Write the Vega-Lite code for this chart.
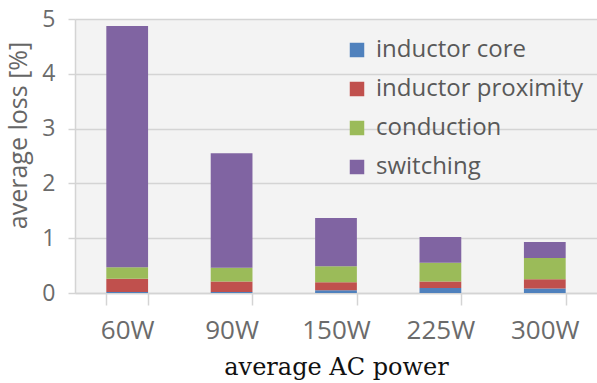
{
  "$schema": "https://vega.github.io/schema/vega-lite/v6.json",
  "width": 522,
  "height": 274,
  "autosize": {"type": "none"},
  "padding": {"left": 75, "top": 19, "right": 0, "bottom": 90},
  "background": "white",
  "config": {
    "view": {"fill": "#f3f3f3", "stroke": null},
    "font": "Open Sans"
  },
  "data": {
    "values": [
      {"power": "60W", "type": "inductor core", "o": 1, "loss": 0.02},
      {"power": "60W", "type": "inductor proximity", "o": 2, "loss": 0.24},
      {"power": "60W", "type": "conduction", "o": 3, "loss": 0.21},
      {"power": "60W", "type": "switching", "o": 4, "loss": 4.4},
      {"power": "90W", "type": "inductor core", "o": 1, "loss": 0.02},
      {"power": "90W", "type": "inductor proximity", "o": 2, "loss": 0.19},
      {"power": "90W", "type": "conduction", "o": 3, "loss": 0.25},
      {"power": "90W", "type": "switching", "o": 4, "loss": 2.09},
      {"power": "150W", "type": "inductor core", "o": 1, "loss": 0.05},
      {"power": "150W", "type": "inductor proximity", "o": 2, "loss": 0.145},
      {"power": "150W", "type": "conduction", "o": 3, "loss": 0.295},
      {"power": "150W", "type": "switching", "o": 4, "loss": 0.88},
      {"power": "225W", "type": "inductor core", "o": 1, "loss": 0.09},
      {"power": "225W", "type": "inductor proximity", "o": 2, "loss": 0.12},
      {"power": "225W", "type": "conduction", "o": 3, "loss": 0.34},
      {"power": "225W", "type": "switching", "o": 4, "loss": 0.47},
      {"power": "300W", "type": "inductor core", "o": 1, "loss": 0.08},
      {"power": "300W", "type": "inductor proximity", "o": 2, "loss": 0.17},
      {"power": "300W", "type": "conduction", "o": 3, "loss": 0.39},
      {"power": "300W", "type": "switching", "o": 4, "loss": 0.29}
    ]
  },
  "mark": {"type": "bar"},
  "encoding": {
    "x": {
      "field": "power",
      "type": "nominal",
      "sort": ["60W", "90W", "150W", "225W", "300W"],
      "scale": {"paddingInner": 0.6, "paddingOuter": 0.3},
      "axis": {
        "title": "average AC power",
        "titleFont": "DejaVu Serif",
        "titleFontSize": 24,
        "titleFontWeight": "normal",
        "titleColor": "#111111",
        "titleBaseline": "alphabetic",
        "titleY": 81,
        "labelAngle": 0,
        "labelFontSize": 26,
        "labelColor": "#6b6b6b",
        "labelPadding": 12,
        "labelBaseline": "top",
        "tickBand": "extent",
        "tickSize": 12,
        "tickColor": "#d4d4d4",
        "tickWidth": 1.5,
        "domainColor": "#d4d4d4",
        "domainWidth": 1.5
      }
    },
    "y": {
      "field": "loss",
      "type": "quantitative",
      "stack": "zero",
      "scale": {"domain": [0, 5], "nice": false},
      "axis": {
        "title": "average  loss [%]",
        "titleFontSize": 25,
        "titleFontWeight": "normal",
        "titleColor": "#666666",
        "titleX": -57,
        "titleY": 116,
        "titleAngle": -90,
        "titleAlign": "center",
        "titleBaseline": "middle",
        "values": [0, 1, 2, 3, 4, 5],
        "labelFontSize": 23,
        "labelColor": "#6b6b6b",
        "labelPadding": 13,
        "tickSize": 7,
        "tickColor": "#d4d4d4",
        "tickWidth": 1.5,
        "domain": true,
        "domainColor": "#d4d4d4",
        "domainWidth": 1.5,
        "gridColor": "#d4d4d4",
        "gridWidth": 1.5
      }
    },
    "color": {
      "field": "type",
      "type": "nominal",
      "sort": ["inductor core", "inductor proximity", "conduction", "switching"],
      "scale": {
        "domain": ["inductor core", "inductor proximity", "conduction", "switching"],
        "range": ["#4F81BD", "#C0504D", "#9BBB59", "#8064A2"]
      },
      "legend": {
        "title": null,
        "orient": "none",
        "legendX": 270,
        "legendY": 19,
        "symbolType": "square",
        "symbolSize": 210,
        "symbolStrokeWidth": 0,
        "labelFontSize": 24,
        "labelColor": "#595959",
        "labelOffset": 7,
        "rowPadding": 15,
        "labelLimit": 300
      }
    },
    "order": {"field": "o", "type": "quantitative"}
  }
}
